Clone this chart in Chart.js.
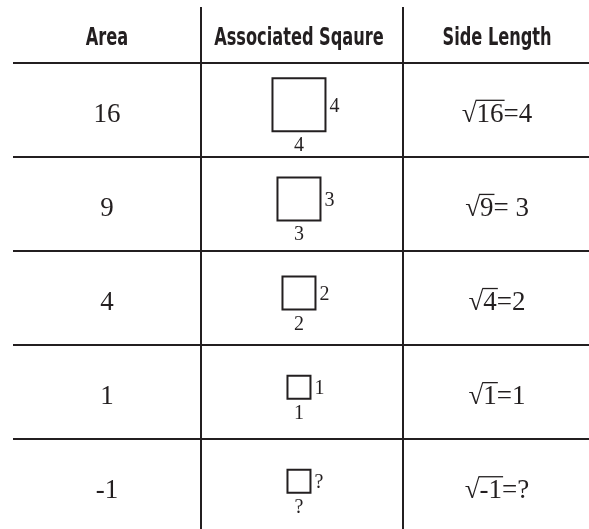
<!DOCTYPE html>
<html>
<head>
<meta charset="utf-8">
<script src="https://cdn.jsdelivr.net/npm/chart.js@4.4.0/dist/chart.umd.min.js"></script>
<style>
  html, body { margin: 0; padding: 0; background: #fff; }
  .wrap { width: 589px; height: 529px; position: relative; }
</style>
</head>
<body>
<div class="wrap"><canvas id="squareChart"></canvas></div>
<script>
const headers = ["Area", "Associated Sqaure", "Side Length"];
const areas = [16, 9, 4, 1, -1];
const sides = [4, 3, 2, 1, null];
const sideLabels = ["4", "3", "2", "1", "?"];
const rootResults = ["=4", "= 3", "=2", "=1", "=?"];

const ink = "#231f20";
const serif = "'Liberation Serif', 'DejaVu Serif', serif";
const headFont = "'DejaVu Sans Condensed', 'Liberation Sans Narrow', sans-serif";
const headSquash = 0.75; // header face is wider than the original condensed one

// where things sit, in scale units (x = column, y = row)
const colText = [0.535, 1.485, 2.465];
const headerY = -0.19;
const baseY = 0.628;
const squareY = 0.45;

const tableText = {
  id: "tableText",
  afterDatasetsDraw(chart) {
    const ctx = chart.ctx;
    const xs = chart.scales.x, ys = chart.scales.y;
    ctx.save();
    ctx.fillStyle = ink;
    ctx.strokeStyle = ink;
    ctx.textBaseline = "alphabetic";

    // header row
    ctx.textAlign = "center";
    ctx.font = "bold 24px " + headFont;
    headers.forEach((h, i) => {
      ctx.save();
      ctx.translate(xs.getPixelForValue(colText[i]), ys.getPixelForValue(headerY));
      ctx.scale(headSquash, 1);
      ctx.fillText(h, 0, 0);
      ctx.restore();
    });

    // area column + root column
    ctx.font = "27px " + serif;
    areas.forEach((a, i) => {
      const y = ys.getPixelForValue(i + baseY);
      ctx.textAlign = "center";
      ctx.fillText(String(a), xs.getPixelForValue(colText[0]), y);

      ctx.textAlign = "left";
      const rad = String(a);
      const mRoot = ctx.measureText("\u221A");
      const wRoot = mRoot.width;
      const wRad = ctx.measureText(rad).width;
      const wRest = ctx.measureText(rootResults[i]).width;
      const x0 = xs.getPixelForValue(colText[2]) - (wRoot + wRad + wRest) / 2;
      ctx.fillText("\u221A", x0, y);
      ctx.fillText(rad, x0 + wRoot, y);
      ctx.fillText(rootResults[i], x0 + wRoot + wRad, y);
      const top = y - mRoot.actualBoundingBoxAscent + 0.7;
      ctx.lineWidth = 1.3;
      ctx.beginPath();
      ctx.moveTo(x0 + wRoot - 1, top);
      ctx.lineTo(x0 + wRoot + wRad + 1, top);
      ctx.stroke();
    });

    // side labels next to each square
    ctx.font = "20px " + serif;
    chart.getDatasetMeta(0).data.forEach((pt, i) => {
      const half = pt.options.radius * Math.SQRT1_2 + 1;
      ctx.textAlign = "center";
      ctx.fillText(sideLabels[i], pt.x, pt.y + half + 19);
      ctx.textAlign = "left";
      ctx.fillText(sideLabels[i], pt.x + half + 3, pt.y + 7);
    });
    ctx.restore();
  }
};

new Chart(document.getElementById("squareChart"), {
  type: "scatter",
  data: {
    datasets: [{
      label: "Associated square",
      data: areas.map((a, i) => ({ x: colText[1], y: i + squareY })),
      pointStyle: "rect",
      pointRadius: c => ((10 * (sides[c.dataIndex] ?? 1) + 13) / 2) * Math.SQRT2,
      pointBorderWidth: 2,
      pointBorderColor: ink,
      pointBackgroundColor: "rgba(255,255,255,0)"
    }]
  },
  options: {
    animation: false,
    events: [],
    responsive: true,
    maintainAspectRatio: false,
    layout: { padding: { left: 13, top: 7, right: 0, bottom: 0 }, autoPadding: false },
    plugins: {
      legend: { display: false },
      tooltip: { enabled: false }
    },
    scales: {
      x: {
        type: "linear",
        min: 0.07,
        max: 2.92,
        afterBuildTicks: s => { s.ticks = [{ value: 1 }, { value: 2 }]; },
        ticks: { display: false },
        border: { display: false },
        grid: { color: ink, lineWidth: 2, drawTicks: false }
      },
      y: {
        type: "linear",
        reverse: true,
        min: -0.59,
        max: 4.957,
        afterBuildTicks: s => { s.ticks = [0, 1, 2, 3, 4].map(v => ({ value: v })); },
        ticks: { display: false },
        border: { display: false },
        grid: { color: ink, lineWidth: 2, drawTicks: false }
      }
    }
  },
  plugins: [tableText]
});
</script>
</body>
</html>
